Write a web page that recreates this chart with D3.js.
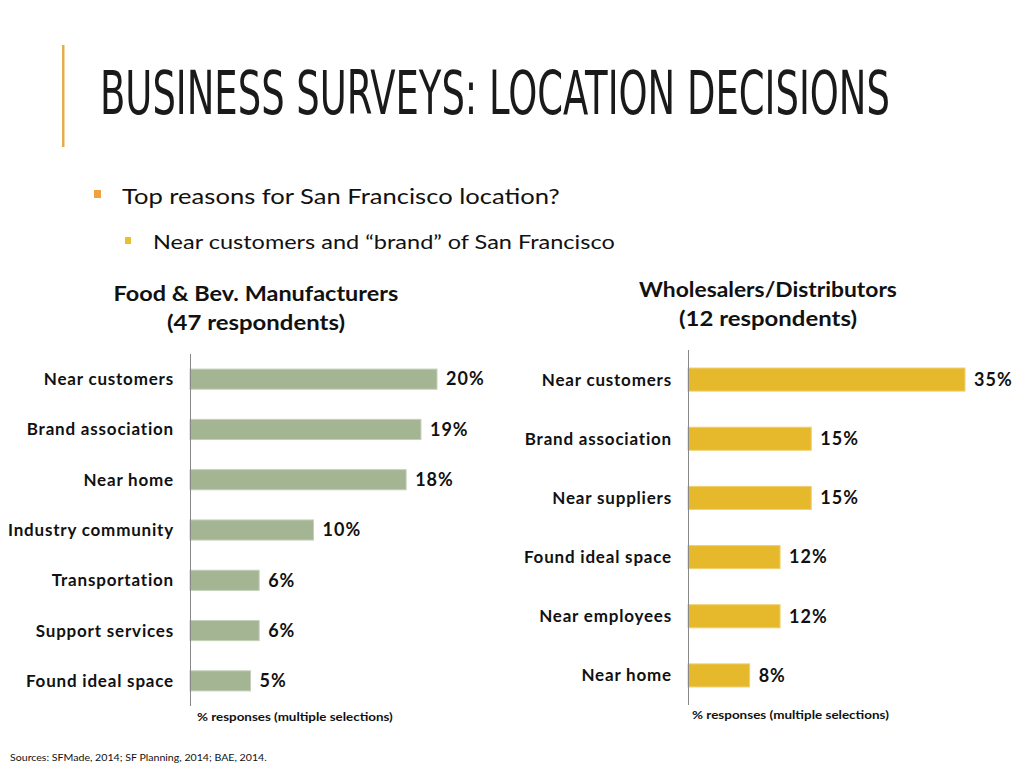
<!DOCTYPE html>
<html><head><meta charset="utf-8">
<script src="https://cdn.jsdelivr.net/npm/d3@7"></script>
<style>
html,body{margin:0;padding:0;background:#fff;}
svg{display:block;}
text{font-family:"Lato","Noto Sans",sans-serif;fill:#111;}
</style></head>
<body>
<svg id="c" width="1024" height="768"></svg>
<script>
const titleText = "BUSINESS SURVEYS: LOCATION DECISIONS";
const bullet1 = "Top reasons for San Francisco location?";
const bullet2 = "Near customers and “brand” of San Francisco";
const leftTitle = ["Food & Bev. Manufacturers", "(47 respondents)"];
const rightTitle = ["Wholesalers/Distributors", "(12 respondents)"];
const leftCategories = ["Near customers","Brand association","Near home","Industry community","Transportation","Support services","Found ideal space"];
const leftValues = [20.0, 18.7, 17.5, 10.0, 5.6, 5.6, 4.9];
const rightCategories = ["Near customers","Brand association","Near suppliers","Found ideal space","Near employees","Near home"];
const rightValues = [34.6, 15.4, 15.4, 11.5, 11.5, 7.7];
const axisCaption = "% responses (multiple selections)";
const sourceText = "Sources: SFMade, 2014;  SF Planning, 2014; BAE, 2014.";

const svg = d3.select("#c");

// fit a text to a given width by horizontal scaling
function fitText(sel, x, y, w){
  const n = sel.node();
  const cw = n.getComputedTextLength();
  sel.attr("x",0).attr("y",0).attr("transform",`translate(${x},${y}) scale(${w/cw},1)`);
  return sel;
}

// accent bar
svg.append("rect").attr("x",62).attr("y",45).attr("width",2.5).attr("height",102).attr("fill","#e3ad4f");

// title
fitText(svg.append("text")
  .style("font-family","'Liberation Sans Narrow','DejaVu Sans Condensed','Liberation Sans',sans-serif")
  .style("font-size","60px").style("fill","#1a1a1a")
  .text(titleText), 100, 114, 790);

// bullets
svg.append("rect").attr("x",94).attr("y",190).attr("width",7).attr("height",8).attr("fill","#f0a144");
fitText(svg.append("text").style("font-size","22px").text(bullet1), 122, 204, 438);
svg.append("rect").attr("x",125).attr("y",237).attr("width",6).attr("height",7).attr("fill","#e8bf2c");
fitText(svg.append("text").style("font-size","19px").text(bullet2), 153, 249, 462);

function chart(opts){
  const g = svg.append("g");
  opts.title.forEach((t,i)=>{
    fitText(g.append("text").style("font-weight","bold").style("font-size","20px").text(t),
      opts.titleX - opts.titleW[i]/2, opts.titleY + i*29, opts.titleW[i]);
  });
  const y = d3.scaleBand().domain(opts.cats).range(opts.yRange).paddingInner(opts.pad).paddingOuter(opts.pad/2);
  const x = d3.scaleLinear().domain([0, opts.maxV]).range([opts.x0, opts.x1]);
  g.selectAll("rect.bar").data(opts.vals).enter().append("rect")
    .attr("class","bar")
    .attr("x",x(0)).attr("y",(d,i)=>y(opts.cats[i]))
    .attr("width",d=>x(d)-x(0)).attr("height",y.bandwidth())
    .attr("fill",opts.color).attr("stroke",opts.stroke).attr("stroke-width",1);
  const ax = d3.axisLeft(y).tickSize(0).tickPadding(opts.x0 - opts.labelX);
  const axg = g.append("g").attr("transform",`translate(${opts.x0},0)`).call(ax);
  axg.select(".domain").attr("stroke","#888").attr("stroke-width",1)
    .attr("d",`M0.5,${opts.yRange[0]}V${opts.yRange[1]}`);
  axg.selectAll(".tick text").style("font-family","'Lato','Noto Sans',sans-serif")
    .style("font-weight","bold").style("font-size","17px").style("letter-spacing","0.8px").style("fill","#111")
    .attr("dy","0.35em");
  g.selectAll("text.val").data(opts.vals).enter().append("text")
    .attr("class","val").attr("x",d=>x(d)+9).attr("y",(d,i)=>y(opts.cats[i])+y.bandwidth()/2)
    .attr("dy","0.35em").style("font-weight","bold").style("font-size","18px").style("letter-spacing","1px")
    .text(d=>Math.round(d)+"%");
  fitText(g.append("text").style("font-weight","bold").style("font-size","12px").text(axisCaption),
    opts.capX, opts.capY, opts.capW);
}

chart({title:leftTitle,titleX:256,titleY:301,titleW:[285,178],cats:leftCategories,vals:leftValues,
  yRange:[354,706],pad:0.6,x0:190,x1:437,maxV:20,labelX:174,color:"#a3b592",stroke:"#c4d0b8",
  capX:197,capY:721,capW:196});
chart({title:rightTitle,titleX:768,titleY:297,titleW:[258,178],cats:rightCategories,vals:rightValues,
  yRange:[350,705],pad:0.61,x0:688,x1:965,maxV:34.6,labelX:672,color:"#e6b92c",stroke:"#f0d070",
  capX:692,capY:719,capW:197});

fitText(svg.append("text").style("font-size","10px").text(sourceText), 10, 761, 257);
</script>
</body></html>
